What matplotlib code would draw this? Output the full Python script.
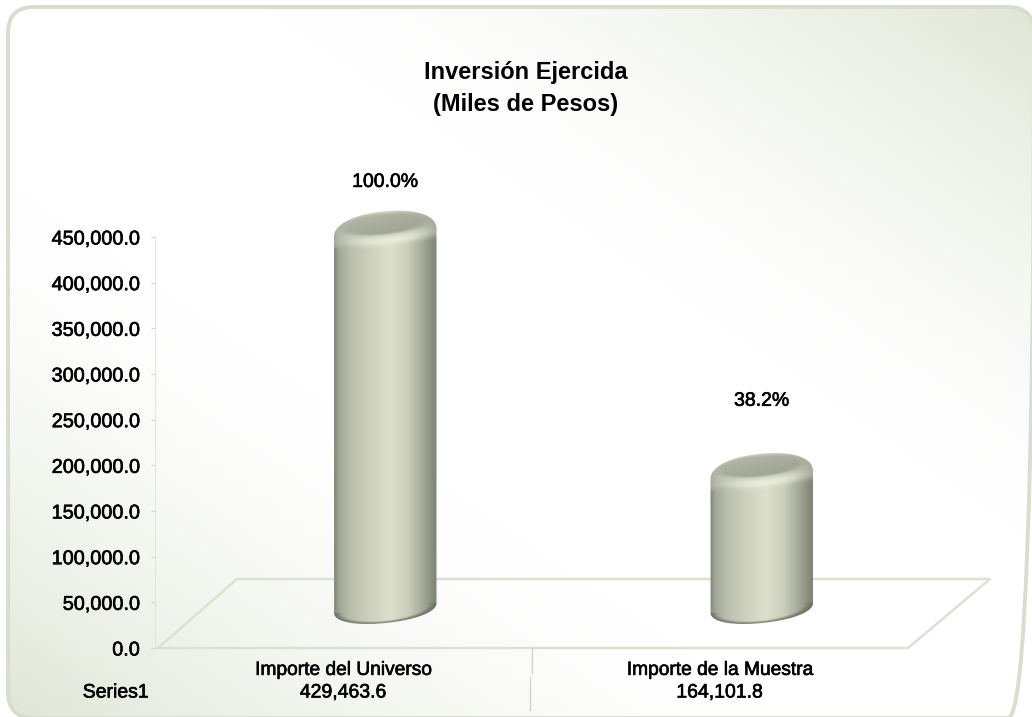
import numpy as np
import matplotlib
matplotlib.use("Agg")
import matplotlib.pyplot as plt
import matplotlib.patheffects as pe
from matplotlib.patches import FancyBboxPatch, PathPatch
from matplotlib.path import Path
from matplotlib.colors import to_rgb

categories = ["Importe del Universo", "Importe de la Muestra"]
values = [429463.6, 164101.8]
percent_labels = ["100.0%", "38.2%"]
series_name = "Series1"
y_ticks = [0, 50000, 100000, 150000, 200000, 250000, 300000, 350000, 400000, 450000]
title_lines = ["Inversión Ejercida", "(Miles de Pesos)"]

W, H = 1032, 717
plt.rcParams['font.family'] = ['Liberation Sans', 'DejaVu Sans']
fig = plt.figure(figsize=(W / 100, H / 100), dpi=100, facecolor="white")
HEAVY = [pe.withStroke(linewidth=0.45, foreground="black")]

# ---- panel background (pixel coordinates): white diagonal band, green towards two corners
bg = fig.add_axes([0, 0, 1, 1])
bg.set_xlim(0, W); bg.set_ylim(H, 0); bg.axis("off")
gx, gy = np.meshgrid(np.linspace(0, 1, 258), np.linspace(0, 1, 180))
s = np.abs(gx - gy)
d = np.clip((s - 0.25) / 0.75, 0, 1) ** 1.5
c0, c1 = np.array(to_rgb("#ffffff")), np.array(to_rgb("#e0e6d6"))
im = bg.imshow(c0 + (c1 - c0) * d[..., None], extent=(0, W, H, 0), aspect="auto", zorder=1,
               interpolation="bilinear")
frame = FancyBboxPatch((8, 7), W - 6, H - 6, boxstyle="round,pad=0,rounding_size=26",
                       fc="none", ec="#d9ddcc", lw=2.8, zorder=3)
bg.add_patch(frame)
im.set_clip_path(frame)
bg.set_xlim(0, W); bg.set_ylim(H, 0)

# ---- chart axes
L, R, B, T = 155, 908, 648, 237
ax = fig.add_axes([L / W, 1 - B / H, (R - L) / W, (B - T) / H])
ax.patch.set_alpha(0)
XLIM, YLIM = (-0.5, 1.5), (0, 450000)
ax.set_xlim(*XLIM); ax.set_ylim(*YLIM)
px_x = (XLIM[1] - XLIM[0]) / (R - L)
px_y = (YLIM[1] - YLIM[0]) / (B - T)
for sp in ("top", "right", "bottom"):
    ax.spines[sp].set_visible(False)
ax.spines["left"].set_color("#e3e6d9")
ax.set_yticks(y_ticks)
ax.set_yticklabels([f"{v:,.1f}" for v in y_ticks], fontsize=14.3, color="black", path_effects=HEAVY)
ax.tick_params(axis="y", length=3, color="#d5d8c9", pad=8)
ax.set_xticks([0, 1])
ax.set_xticklabels(categories, fontsize=13.8, color="black", path_effects=HEAVY)
ax.tick_params(axis="x", length=0, pad=10)

# floor parallelogram
DEPTH_X, DEPTH_Y = 82, 69
floor = [(XLIM[0] + 3 * px_x, 0), (XLIM[1], 0), (XLIM[1] + DEPTH_X * px_x, DEPTH_Y * px_y),
         (XLIM[0] + DEPTH_X * px_x, DEPTH_Y * px_y), (XLIM[0] + 3 * px_x, 0)]
ax.plot(*zip(*floor), color="#dde1d2", lw=1.8, clip_on=False, zorder=1)

# table under the axis
ax.plot([0.5, 0.5], [0, -25 * px_y], color="#d0d3c6", lw=1, clip_on=False)
ax.plot([0.495, 0.495], [-29 * px_y, -62 * px_y], color="#d0d3c6", lw=1, clip_on=False)
for i, v in enumerate(values):
    ax.text(i, -45 * px_y, f"{v:,.1f}", ha="center", va="center", fontsize=14, clip_on=False,
            path_effects=HEAVY)
ax.text(XLIM[0] - 39 * px_x, -45 * px_y, series_name, ha="center", va="center", fontsize=14,
        path_effects=HEAVY)

# ---- cylinders
A, B_TOP, B_BOT, TILT = 51.5, 21.5, 15.0, np.radians(6)
OFF_X, TOP_OFF, BASE_OFF = 42, 25000, 43900
LABEL_GAP = [50.5, 74]


def mix(a, b, t):
    return a * (1 - t[..., None]) + b * t[..., None]


def sstep(e0, e1, x):
    t = np.clip((x - e0) / (e1 - e0), 0, 1)
    return t * t * (3 - 2 * t)


def shade(u):
    stops = [-1, -0.9, -0.7, -0.3, 0.1, 0.45, 0.72, 0.9, 1]
    cols = np.array([to_rgb(c) for c in ("#7f8576", "#a2a797", "#b9bdab", "#cdd1bd", "#dde0cc",
                                         "#c8ccb9", "#a6ab9a", "#8a8f80", "#7d8374")])
    return np.stack([np.interp(u, stops, cols[:, k]) for k in range(3)], axis=-1)


def ell(t, yc, b, n=2.0):
    ca, sa = np.cos(t), np.sin(t)
    ex = A * np.sign(ca) * np.abs(ca) ** (2 / n)
    ey = b * np.sign(sa) * np.abs(sa) ** (2 / n)
    return (ex * np.cos(TILT) - ey * np.sin(TILT), yc + ex * np.sin(TILT) + ey * np.cos(TILT))


def cylinder(i, v):
    cx = i + OFF_X * px_x
    top = v + TOP_OFF
    h_px = (top - BASE_OFF) / px_y
    t1 = np.linspace(0, np.pi, 120)
    t2 = np.linspace(np.pi, 2 * np.pi, 120)
    tx, ty = ell(t1, h_px, B_TOP, 2.2)
    bx, by = ell(t2, 0, B_BOT, 2.15)
    px = np.r_[tx, bx, tx[0]]; py = np.r_[ty, by, ty[0]]
    verts = np.c_[cx + px * px_x, BASE_OFF + py * px_y]
    clip = PathPatch(Path(verts), fc="none", ec="none", transform=ax.transData)
    ax.add_patch(clip)

    x0, x1, y0, y1 = -A - 3, A + 3, -B_BOT - 10, h_px + B_TOP + 10
    X, Y = np.meshgrid(np.linspace(x0, x1, int((x1 - x0) * 2)), np.linspace(y0, y1, int((y1 - y0) * 2)))
    u = np.clip(X / A, -1, 1)
    img = shade(u)
    # dark lower rim
    Yb = Y - X * np.tan(TILT)
    rb = np.sqrt((X / A) ** 2 + (Yb / B_BOT) ** 2)
    dark = sstep(0.82, 1.0, rb) * (Yb < 0)
    img = mix(img, np.array(to_rgb("#6a7063")), dark * 0.85)
    # rotated frame of the top
    xr = X * np.cos(TILT) + (Y - h_px) * np.sin(TILT)
    yr = -X * np.sin(TILT) + (Y - h_px) * np.cos(TILT)
    xr2 = X * np.cos(TILT * 1.5) + (Y - h_px) * np.sin(TILT * 1.5)
    # shoulder: a mid tone over the whole top, fading down into the body
    fade = sstep(-14, -4, yr)
    img = mix(img, mix(shade(u), np.array(to_rgb("#c6cab8")), np.full(X.shape, 0.55)), fade)
    # bright band along the front of the shoulder
    band = np.exp(-((yr + 8 + 5.5 * (xr / 50) ** 2 * -1) / 4.5) ** 2) * np.clip(1 - (xr2 / 50 - 0.05) ** 2, 0, 1) ** 1.4
    img = mix(img, np.array(to_rgb("#eceedd")), band * 0.95)
    # inner flat cap
    rc = np.sqrt((xr2 / 46) ** 2 + ((yr - 9) / 11) ** 2)
    capc = mix(np.tile(np.array(to_rgb("#a0a594")), X.shape + (1,)), np.array(to_rgb("#b2b6a4")),
               np.clip(0.45 + 0.5 * (yr - 9) / 11 - 0.25 * xr2 / 46, 0, 1))
    img = mix(img, capc, 1 - sstep(0.78, 1.12, rc))
    im = ax.imshow(img, origin="lower", aspect="auto", interpolation="bilinear", zorder=3,
                   extent=(cx + x0 * px_x, cx + x1 * px_x, BASE_OFF + y0 * px_y, BASE_OFF + y1 * px_y))
    im.set_clip_on(True)
    im.set_clip_box(fig.bbox)
    im.set_clip_path(clip)
    ax.text(cx, top + LABEL_GAP[i] * px_y, percent_labels[i], ha="center", va="center", fontsize=14,
            zorder=4, clip_on=False, path_effects=HEAVY)


for i, v in enumerate(values):
    cylinder(i, v)
ax.set_xlim(*XLIM); ax.set_ylim(*YLIM)

# ---- title
fig.text(526 / W, 1 - 73 / H, title_lines[0], ha="center", va="center", fontsize=17, fontweight="bold")
fig.text(526 / W, 1 - 105 / H, title_lines[1], ha="center", va="center", fontsize=17, fontweight="bold")

fig.savefig("out.png", dpi=100, facecolor="white")
